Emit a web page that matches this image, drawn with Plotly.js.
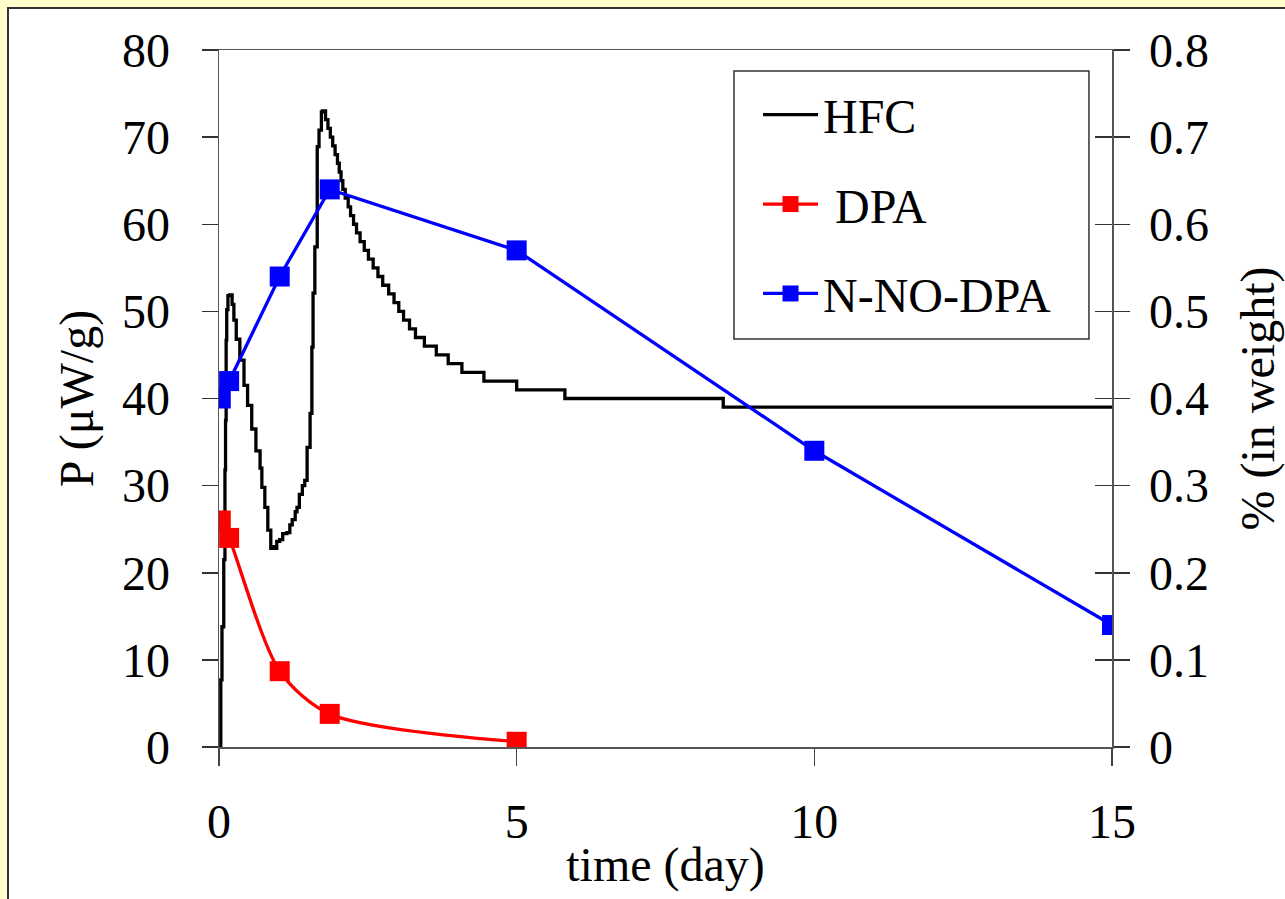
<!DOCTYPE html>
<html>
<head>
<meta charset="utf-8">
<script src="https://cdn.plot.ly/plotly-3.0.1.min.js"></script>
<style>
  html, body { margin: 0; padding: 0; background: #FFFFCC; width: 1285px; height: 899px; overflow: hidden; }
  #frame { position: absolute; left: 7px; top: 7px; width: 1278px; height: 892px; border-left: 2px solid #333; border-top: 2px solid #333; background: #fff; }
  #chart { width: 1276px; height: 890px; }
</style>
</head>
<body>
<div id="frame"><div id="chart"></div></div>
<script>
// HFC heat flow (µW/g) vs time (day)
const hfcX = [0.03, 0.03, 0.05, 0.08, 0.10, 0.11, 0.12, 0.13, 0.15, 0.18,
  0.22, 0.25, 0.29, 0.35, 0.42, 0.48, 0.55, 0.62, 0.69, 0.72, 0.77, 0.82, 0.87, 0.90, 0.92, 0.97,
  1.02, 1.07, 1.14, 1.19, 1.23, 1.28, 1.31, 1.35, 1.40, 1.44, 1.48, 1.53, 1.56, 1.58, 1.61, 1.65, 1.68, 1.72, 1.74,
  1.79, 1.83, 1.87, 1.91, 1.95, 1.99, 2.02, 2.05, 2.08, 2.12, 2.17, 2.21, 2.26, 2.31, 2.37, 2.44, 2.51, 2.59, 2.67,
  2.75, 2.85, 2.94, 3.02, 3.10, 3.20, 3.30, 3.45, 3.65, 3.85, 4.08, 4.45, 5.00, 5.81, 8.47, 15.0];
const hfcY = [0, 7.7, 13.8, 21.5, 31.8, 37.5, 46.7, 50.2, 51.8, 51.9,
  50.8, 49.0, 46.8, 44.4, 41.5, 39.2, 36.5, 34.0, 32.0, 29.8, 27.5, 24.9, 22.8, 23.0, 22.8, 23.6,
  23.8, 24.5, 24.6, 25.5, 26.1, 27.0, 27.5, 29.0, 30.0, 30.6, 34.4, 38.3, 45.9, 52.1, 57.4, 68.9, 70.8, 72.9, 73,
  72, 71, 70, 69, 68, 67, 66, 65, 64, 63, 62, 61, 60, 59, 58, 57, 56, 55, 54,
  53, 52, 51, 50, 49, 48, 47, 46, 45, 44, 43, 42, 41, 40, 39, 39];

// DPA (% in weight)
const dpaX = [0.03, 0.17, 1.02, 1.86, 5.0];
const dpaY = [0.26, 0.24, 0.087, 0.038, 0.006];

// N-NO-DPA (% in weight)
const nnoX = [0.03, 0.17, 1.02, 1.86, 5.0, 10.0, 15.0];
const nnoY = [0.40, 0.42, 0.54, 0.64, 0.57, 0.34, 0.14];

const xTicks = [0, 5, 10, 15];
const yTicks = [0, 10, 20, 30, 40, 50, 60, 70, 80];
const y2Ticks = [0, 0.1, 0.2, 0.3, 0.4, 0.5, 0.6, 0.7, 0.8];
const y2TickText = ['0', '0.1', '0.2', '0.3', '0.4', '0.5', '0.6', '0.7', '0.8'];

const FONT = 'Liberation Serif';

const traces = [
  { x: hfcX, y: hfcY, name: 'HFC', type: 'scatter', mode: 'lines',
    line: { color: '#000', width: 3.3, shape: 'hv' }, legendgroup: 'g1', hoverinfo: 'skip' },
  { x: dpaX, y: dpaY, name: ' DPA', type: 'scatter', mode: 'lines+markers', yaxis: 'y2',
    line: { color: '#FF0000', width: 3.3, shape: 'spline', smoothing: 0.8 },
    marker: { symbol: 'square', size: 20, color: '#FF0000' }, legendgroup: 'g2' },
  { x: nnoX, y: nnoY, name: 'N-NO-DPA', type: 'scatter', mode: 'lines+markers', yaxis: 'y2',
    line: { color: '#0000FF', width: 3.3 },
    marker: { symbol: 'square', size: 20, color: '#0000FF' }, legendgroup: 'g3' }
];

const layout = {
  width: 1276, height: 890,
  margin: { l: 210, r: 173, t: 41, b: 152 },
  paper_bgcolor: '#fff', plot_bgcolor: '#fff',
  font: { family: FONT, size: 48, color: '#000' },
  showlegend: true,
  legend: {
    x: 0.6036, y: 0.9613, xanchor: 'left', yanchor: 'top',
    bgcolor: 'rgba(0,0,0,0)', borderwidth: 0,
    font: { family: FONT, size: 48, color: '#000' },
    traceorder: 'grouped', tracegroupgap: 24, itemwidth: 55
  },
  shapes: [
    { type: 'rect', xref: 'paper', yref: 'paper', x0: 0.5767, x1: 0.9742, y0: 0.5854, y1: 0.9699,
      line: { color: '#333', width: 1.5 }, fillcolor: '#fff', layer: 'above' }
  ],
  xaxis: {
    range: [0, 15], tickvals: xTicks, ticks: 'outside', ticklen: 17, tickwidth: 1.5, tickcolor: '#444',
    showline: true, linecolor: '#555', linewidth: 1.5, mirror: true,
    showgrid: false, zeroline: false, ticklabelstandoff: 15,
    tickfont: { family: FONT, size: 48 },
    title: { text: 'time (day)', font: { family: FONT, size: 48 }, standoff: 0 }
  },
  yaxis: {
    range: [0, 80], tickvals: yTicks, ticks: 'outside', ticklen: 16, tickwidth: 1.5, tickcolor: '#333',
    showline: true, linecolor: '#555', linewidth: 1.5, mirror: 'ticks',
    showgrid: false, zeroline: false, ticklabelstandoff: 22,
    tickfont: { family: FONT, size: 48 },
    title: { text: 'P (μW/g)', font: { family: FONT, size: 48 }, standoff: 13 }
  },
  yaxis2: {
    range: [0, 0.8], tickvals: y2Ticks, ticktext: y2TickText, overlaying: 'y', side: 'right',
    ticks: 'inside', ticklen: 17, tickwidth: 1.5, tickcolor: '#333',
    showline: false, showgrid: false, zeroline: false, ticklabelstandoff: 36,
    tickfont: { family: FONT, size: 48 },
    title: { text: '% (in weight)', font: { family: FONT, size: 48 }, standoff: 33 }
  }
};

Plotly.newPlot('chart', traces, layout, { displayModeBar: false, staticPlot: true });
</script>
</body>
</html>
